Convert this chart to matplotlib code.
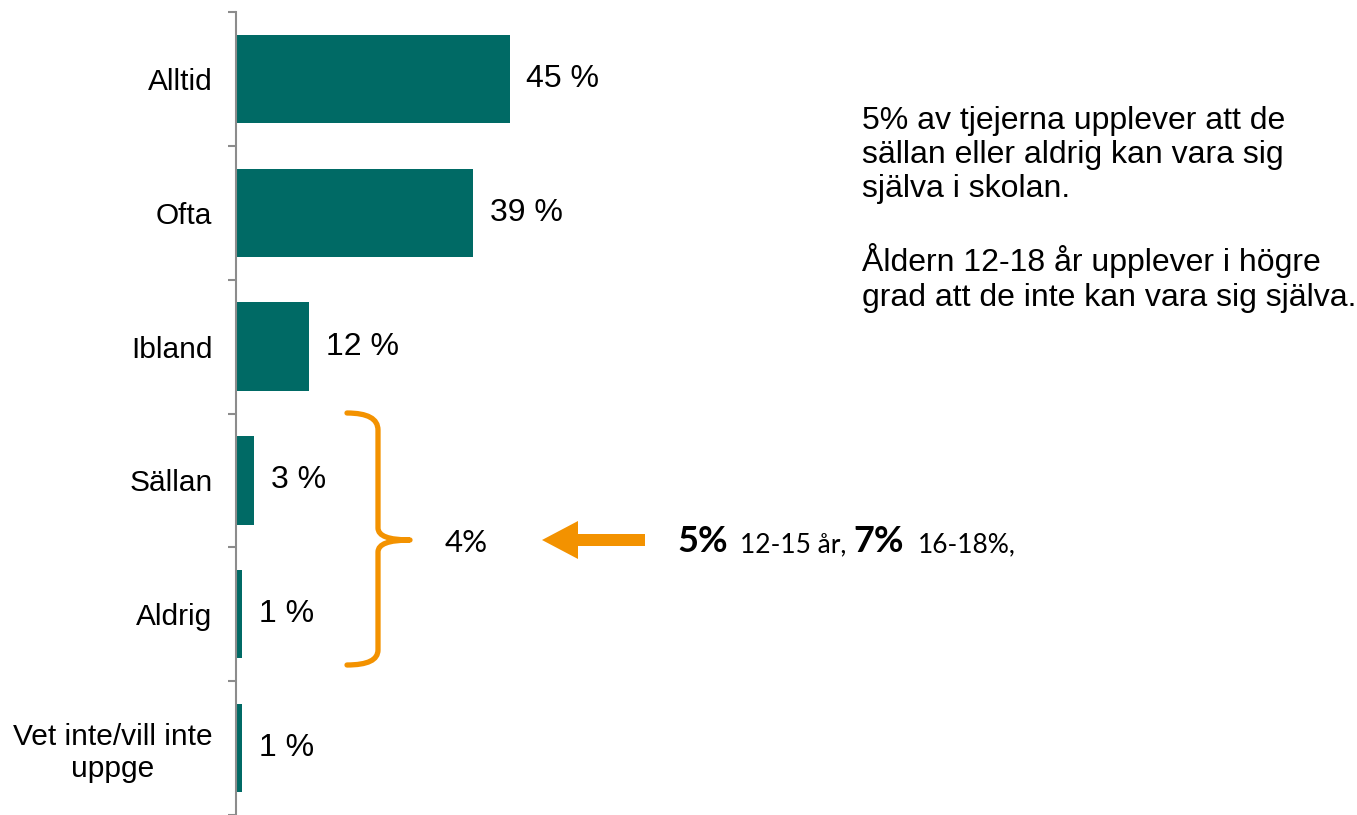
import matplotlib.pyplot as plt
import matplotlib.patches as mpatches
from matplotlib.path import Path

## Data
categories = ['Alltid', 'Ofta', 'Ibland', 'Sällan', 'Aldrig', 'Vet inte/vill inte\nuppge']
values = [45, 39, 12, 3, 1, 1]

teal = '#006A65'
orange = '#F39200'
W, H = 1357, 815

plt.rcParams['font.family'] = ['Liberation Sans', 'DejaVu Sans']

fig = plt.figure(figsize=(W / 100, H / 100), dpi=100)
ax = fig.add_axes([236 / W, 0, (W - 236) / W, (H - 12) / H])

ypos = list(range(len(categories)))
ax.barh(ypos, values, height=0.66, color=teal)
ax.set_xlim(0, (W - 236) / 6.08)
ax.set_ylim(len(categories) - 0.5, -0.5)

for y, v in zip(ypos, values):
    ax.annotate('%d %%' % v, (v, y), xytext=(12, 0), textcoords='offset points',
                va='center', ha='left', fontsize=23)

## axis styling
for s in ['top', 'right', 'bottom']:
    ax.spines[s].set_visible(False)
ax.spines['left'].set_color('#8c8c8c')
ax.spines['left'].set_linewidth(1.5)
ax.set_xticks([])
ax.set_yticks([i - 0.5 for i in range(len(categories) + 1)])
ax.set_yticklabels([])
ax.tick_params(axis='y', which='major', length=6, width=1.5, color='#8c8c8c', direction='out')
ax.set_yticks(ypos, minor=True)
ax.set_yticklabels(categories, minor=True, fontsize=21.5)
ax.tick_params(axis='y', which='minor', length=0, pad=17)
for lab in ax.get_yticklabels(minor=True):
    lab.set_multialignment('center')


def fx(px):
    return px / W


def fy(py):
    return 1 - py / H


## bracket
verts = [(347, 413), (378, 413), (378, 430), (378, 528), (378, 540), (410, 540),
         (378, 540), (378, 552), (378, 650), (378, 665), (347, 665)]
codes = [Path.MOVETO, Path.CURVE3, Path.CURVE3, Path.LINETO, Path.CURVE3, Path.CURVE3,
         Path.CURVE3, Path.CURVE3, Path.LINETO, Path.CURVE3, Path.CURVE3]
verts = [(fx(x), fy(y)) for x, y in verts]
fig.patches.append(mpatches.PathPatch(Path(verts, codes), transform=fig.transFigure,
                                      fill=False, edgecolor=orange, lw=3.8,
                                      capstyle='round', joinstyle='round'))

## arrow
arrow = [(645, 534), (578, 534), (578, 521), (542, 540), (578, 559), (578, 546), (645, 546)]
fig.patches.append(mpatches.Polygon([(fx(x), fy(y)) for x, y in arrow], closed=True,
                                    transform=fig.transFigure, facecolor=orange, edgecolor='none'))

calib = ['Lato', 'DejaVu Sans']
fig.text(fx(445), fy(552), '4%', fontsize=22.5, va='baseline', ha='left', family=calib)

## right side texts
fig.text(fx(677), fy(552), '5%', fontsize=26, fontweight='bold', va='baseline', ha='left', family=calib)
fig.text(fx(740), fy(552), '12-15 år,', fontsize=19, va='baseline', ha='left', family=calib)
fig.text(fx(853), fy(552), '7%', fontsize=26, fontweight='bold', va='baseline', ha='left', family=calib)
fig.text(fx(918), fy(552), '16-18%,', fontsize=19, va='baseline', ha='left', family=calib)

fig.text(fx(862), fy(106), '5% av tjejerna upplever att de\nsällan eller aldrig kan vara sig\n'
         'själva i skolan.\n\nÅldern 12-18 år upplever i högre\ngrad att de inte kan vara sig själva.',
         fontsize=23, va='top', ha='left', linespacing=1.18)

fig.savefig('out.png', dpi=100)
